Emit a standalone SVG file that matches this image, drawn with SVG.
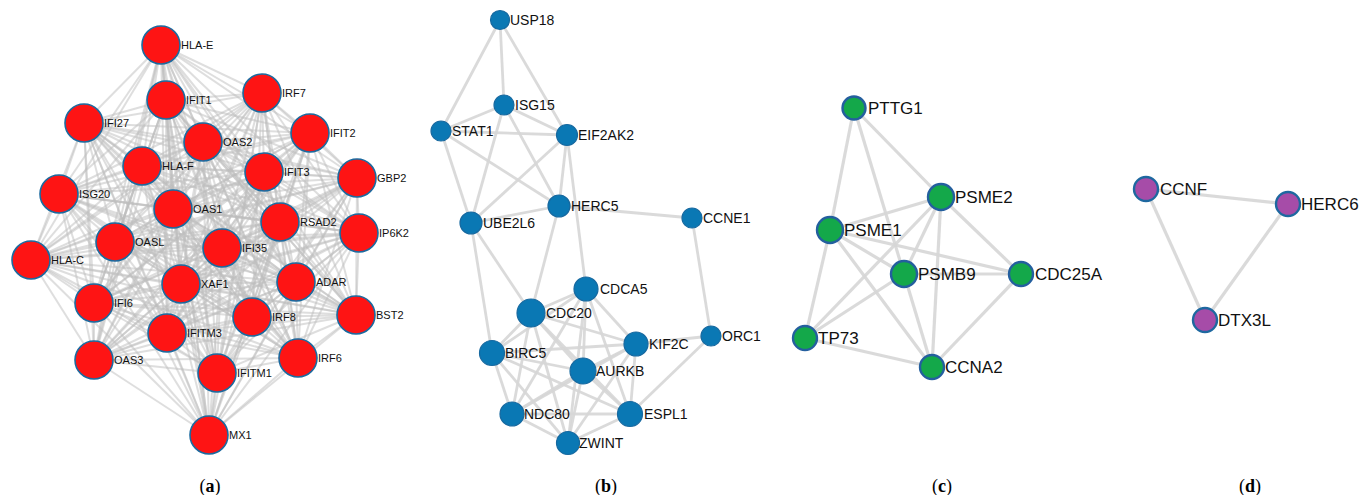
<svg xmlns="http://www.w3.org/2000/svg" width="1363" height="495" viewBox="0 0 1363 495">
<style>
text{font-family:"Liberation Sans",Arial,sans-serif;fill:#111}
.la{font-size:11px}
.lb{font-size:14px}
.lc{font-size:17px}
.cap{font-family:"Liberation Serif","Times New Roman",serif;font-size:18px;fill:#000;text-anchor:middle}
.cap tspan{font-weight:bold}
.ea path{stroke:#bdbdbd;stroke-width:2;stroke-opacity:0.5;fill:none}
.eb path{stroke:#d6d6d6;stroke-width:2.8;fill:none;stroke-opacity:0.9}
.ec path{stroke:#d6d6d6;stroke-width:3.2;fill:none;stroke-opacity:0.9}
.na{fill:#fe1414;stroke:#1b6a9f;stroke-width:1.6}
.nb{fill:#0a78b4;stroke:#1769a0;stroke-width:1.2}
.nc{fill:#14a84a;stroke:#245f9e;stroke-width:2.4}
.nd{fill:#a64ca8;stroke:#1e68a0;stroke-width:2.4}
</style>
<g id="connectors">
<g class="ea">
<path d="M161 45L166 100"/><path d="M161 45L262 93"/><path d="M161 45L84 123"/><path d="M161 45L310 133"/><path d="M161 45L203 142"/><path d="M161 45L142 166"/><path d="M161 45L264 172"/><path d="M161 45L357 178"/><path d="M161 45L59 194"/><path d="M161 45L173 209"/><path d="M161 45L280 222"/><path d="M161 45L359 233"/><path d="M161 45L115 242"/><path d="M161 45L222 248"/><path d="M161 45L31 260"/><path d="M161 45L181 284"/><path d="M161 45L296 282"/><path d="M161 45L94 303"/><path d="M161 45L252 317"/><path d="M161 45L356 315"/><path d="M161 45L167 333"/><path d="M161 45L94 360"/><path d="M161 45L298 358"/><path d="M161 45L217 373"/><path d="M161 45L209 435"/>
<path d="M166 100L262 93"/><path d="M166 100L84 123"/><path d="M166 100L310 133"/><path d="M166 100L203 142"/><path d="M166 100L142 166"/><path d="M166 100L264 172"/><path d="M166 100L357 178"/><path d="M166 100L59 194"/><path d="M166 100L173 209"/><path d="M166 100L280 222"/><path d="M166 100L359 233"/><path d="M166 100L115 242"/><path d="M166 100L222 248"/><path d="M166 100L31 260"/><path d="M166 100L181 284"/><path d="M166 100L296 282"/><path d="M166 100L94 303"/><path d="M166 100L252 317"/><path d="M166 100L356 315"/><path d="M166 100L167 333"/><path d="M166 100L94 360"/><path d="M166 100L298 358"/><path d="M166 100L217 373"/><path d="M166 100L209 435"/>
<path d="M262 93L84 123"/><path d="M262 93L310 133"/><path d="M262 93L203 142"/><path d="M262 93L142 166"/><path d="M262 93L264 172"/><path d="M262 93L357 178"/><path d="M262 93L59 194"/><path d="M262 93L173 209"/><path d="M262 93L280 222"/><path d="M262 93L359 233"/><path d="M262 93L115 242"/><path d="M262 93L222 248"/><path d="M262 93L31 260"/><path d="M262 93L181 284"/><path d="M262 93L296 282"/><path d="M262 93L94 303"/><path d="M262 93L252 317"/><path d="M262 93L356 315"/><path d="M262 93L167 333"/><path d="M262 93L94 360"/><path d="M262 93L298 358"/><path d="M262 93L217 373"/><path d="M262 93L209 435"/>
<path d="M84 123L310 133"/><path d="M84 123L203 142"/><path d="M84 123L142 166"/><path d="M84 123L264 172"/><path d="M84 123L357 178"/><path d="M84 123L59 194"/><path d="M84 123L173 209"/><path d="M84 123L280 222"/><path d="M84 123L359 233"/><path d="M84 123L115 242"/><path d="M84 123L222 248"/><path d="M84 123L31 260"/><path d="M84 123L181 284"/><path d="M84 123L296 282"/><path d="M84 123L94 303"/><path d="M84 123L252 317"/><path d="M84 123L356 315"/><path d="M84 123L167 333"/><path d="M84 123L94 360"/><path d="M84 123L298 358"/><path d="M84 123L217 373"/><path d="M84 123L209 435"/>
<path d="M310 133L203 142"/><path d="M310 133L142 166"/><path d="M310 133L264 172"/><path d="M310 133L357 178"/><path d="M310 133L59 194"/><path d="M310 133L173 209"/><path d="M310 133L280 222"/><path d="M310 133L359 233"/><path d="M310 133L115 242"/><path d="M310 133L222 248"/><path d="M310 133L31 260"/><path d="M310 133L181 284"/><path d="M310 133L296 282"/><path d="M310 133L94 303"/><path d="M310 133L252 317"/><path d="M310 133L356 315"/><path d="M310 133L167 333"/><path d="M310 133L94 360"/><path d="M310 133L298 358"/><path d="M310 133L217 373"/><path d="M310 133L209 435"/>
<path d="M203 142L142 166"/><path d="M203 142L264 172"/><path d="M203 142L357 178"/><path d="M203 142L59 194"/><path d="M203 142L173 209"/><path d="M203 142L280 222"/><path d="M203 142L359 233"/><path d="M203 142L115 242"/><path d="M203 142L222 248"/><path d="M203 142L31 260"/><path d="M203 142L181 284"/><path d="M203 142L296 282"/><path d="M203 142L94 303"/><path d="M203 142L252 317"/><path d="M203 142L356 315"/><path d="M203 142L167 333"/><path d="M203 142L94 360"/><path d="M203 142L298 358"/><path d="M203 142L217 373"/><path d="M203 142L209 435"/>
<path d="M142 166L264 172"/><path d="M142 166L357 178"/><path d="M142 166L59 194"/><path d="M142 166L173 209"/><path d="M142 166L280 222"/><path d="M142 166L359 233"/><path d="M142 166L115 242"/><path d="M142 166L222 248"/><path d="M142 166L31 260"/><path d="M142 166L181 284"/><path d="M142 166L296 282"/><path d="M142 166L94 303"/><path d="M142 166L252 317"/><path d="M142 166L356 315"/><path d="M142 166L167 333"/><path d="M142 166L94 360"/><path d="M142 166L298 358"/><path d="M142 166L217 373"/><path d="M142 166L209 435"/>
<path d="M264 172L357 178"/><path d="M264 172L59 194"/><path d="M264 172L173 209"/><path d="M264 172L280 222"/><path d="M264 172L359 233"/><path d="M264 172L115 242"/><path d="M264 172L222 248"/><path d="M264 172L31 260"/><path d="M264 172L181 284"/><path d="M264 172L296 282"/><path d="M264 172L94 303"/><path d="M264 172L252 317"/><path d="M264 172L356 315"/><path d="M264 172L167 333"/><path d="M264 172L94 360"/><path d="M264 172L298 358"/><path d="M264 172L217 373"/><path d="M264 172L209 435"/>
<path d="M357 178L59 194"/><path d="M357 178L173 209"/><path d="M357 178L280 222"/><path d="M357 178L359 233"/><path d="M357 178L115 242"/><path d="M357 178L222 248"/><path d="M357 178L31 260"/><path d="M357 178L181 284"/><path d="M357 178L296 282"/><path d="M357 178L94 303"/><path d="M357 178L252 317"/><path d="M357 178L356 315"/><path d="M357 178L167 333"/><path d="M357 178L94 360"/><path d="M357 178L298 358"/><path d="M357 178L217 373"/><path d="M357 178L209 435"/>
<path d="M59 194L173 209"/><path d="M59 194L280 222"/><path d="M59 194L359 233"/><path d="M59 194L115 242"/><path d="M59 194L222 248"/><path d="M59 194L31 260"/><path d="M59 194L181 284"/><path d="M59 194L296 282"/><path d="M59 194L94 303"/><path d="M59 194L252 317"/><path d="M59 194L356 315"/><path d="M59 194L167 333"/><path d="M59 194L94 360"/><path d="M59 194L298 358"/><path d="M59 194L217 373"/><path d="M59 194L209 435"/>
<path d="M173 209L280 222"/><path d="M173 209L359 233"/><path d="M173 209L115 242"/><path d="M173 209L222 248"/><path d="M173 209L31 260"/><path d="M173 209L181 284"/><path d="M173 209L296 282"/><path d="M173 209L94 303"/><path d="M173 209L252 317"/><path d="M173 209L356 315"/><path d="M173 209L167 333"/><path d="M173 209L94 360"/><path d="M173 209L298 358"/><path d="M173 209L217 373"/><path d="M173 209L209 435"/>
<path d="M280 222L359 233"/><path d="M280 222L115 242"/><path d="M280 222L222 248"/><path d="M280 222L31 260"/><path d="M280 222L181 284"/><path d="M280 222L296 282"/><path d="M280 222L94 303"/><path d="M280 222L252 317"/><path d="M280 222L356 315"/><path d="M280 222L167 333"/><path d="M280 222L94 360"/><path d="M280 222L298 358"/><path d="M280 222L217 373"/><path d="M280 222L209 435"/>
<path d="M359 233L115 242"/><path d="M359 233L222 248"/><path d="M359 233L31 260"/><path d="M359 233L181 284"/><path d="M359 233L296 282"/><path d="M359 233L94 303"/><path d="M359 233L252 317"/><path d="M359 233L356 315"/><path d="M359 233L167 333"/><path d="M359 233L94 360"/><path d="M359 233L298 358"/><path d="M359 233L217 373"/><path d="M359 233L209 435"/>
<path d="M115 242L222 248"/><path d="M115 242L31 260"/><path d="M115 242L181 284"/><path d="M115 242L296 282"/><path d="M115 242L94 303"/><path d="M115 242L252 317"/><path d="M115 242L356 315"/><path d="M115 242L167 333"/><path d="M115 242L94 360"/><path d="M115 242L298 358"/><path d="M115 242L217 373"/><path d="M115 242L209 435"/>
<path d="M222 248L31 260"/><path d="M222 248L181 284"/><path d="M222 248L296 282"/><path d="M222 248L94 303"/><path d="M222 248L252 317"/><path d="M222 248L356 315"/><path d="M222 248L167 333"/><path d="M222 248L94 360"/><path d="M222 248L298 358"/><path d="M222 248L217 373"/><path d="M222 248L209 435"/>
<path d="M31 260L181 284"/><path d="M31 260L296 282"/><path d="M31 260L94 303"/><path d="M31 260L252 317"/><path d="M31 260L356 315"/><path d="M31 260L167 333"/><path d="M31 260L94 360"/><path d="M31 260L298 358"/><path d="M31 260L217 373"/><path d="M31 260L209 435"/>
<path d="M181 284L296 282"/><path d="M181 284L94 303"/><path d="M181 284L252 317"/><path d="M181 284L356 315"/><path d="M181 284L167 333"/><path d="M181 284L94 360"/><path d="M181 284L298 358"/><path d="M181 284L217 373"/><path d="M181 284L209 435"/>
<path d="M296 282L94 303"/><path d="M296 282L252 317"/><path d="M296 282L356 315"/><path d="M296 282L167 333"/><path d="M296 282L94 360"/><path d="M296 282L298 358"/><path d="M296 282L217 373"/><path d="M296 282L209 435"/>
<path d="M94 303L252 317"/><path d="M94 303L356 315"/><path d="M94 303L167 333"/><path d="M94 303L94 360"/><path d="M94 303L298 358"/><path d="M94 303L217 373"/><path d="M94 303L209 435"/>
<path d="M252 317L356 315"/><path d="M252 317L167 333"/><path d="M252 317L94 360"/><path d="M252 317L298 358"/><path d="M252 317L217 373"/><path d="M252 317L209 435"/>
<path d="M356 315L167 333"/><path d="M356 315L94 360"/><path d="M356 315L298 358"/><path d="M356 315L217 373"/><path d="M356 315L209 435"/>
<path d="M167 333L94 360"/><path d="M167 333L298 358"/><path d="M167 333L217 373"/><path d="M167 333L209 435"/>
<path d="M94 360L298 358"/><path d="M94 360L217 373"/><path d="M94 360L209 435"/>
<path d="M298 358L217 373"/><path d="M298 358L209 435"/>
<path d="M217 373L209 435"/>
</g>
<g class="eb">
<path d="M500 20L504 105"/><path d="M500 20L441 131"/><path d="M500 20L567 135"/>
<path d="M504 105L441 131"/><path d="M504 105L567 135"/><path d="M504 105L471 223"/><path d="M504 105L559 206"/>
<path d="M441 131L567 135"/><path d="M441 131L559 206"/><path d="M441 131L471 223"/>
<path d="M567 135L471 223"/><path d="M567 135L559 206"/><path d="M567 135L586 289"/>
<path d="M559 206L471 223"/><path d="M559 206L692 218"/><path d="M559 206L531 313"/>
<path d="M471 223L492 353"/><path d="M471 223L531 313"/>
<path d="M692 218L711 336"/><path d="M711 336L636 344"/><path d="M711 336L630 414"/>
<path d="M586 289L531 313"/><path d="M586 289L492 353"/><path d="M586 289L636 344"/><path d="M586 289L583 371"/><path d="M586 289L512 414"/><path d="M586 289L630 414"/><path d="M586 289L568 443"/>
<path d="M531 313L492 353"/><path d="M531 313L636 344"/><path d="M531 313L583 371"/><path d="M531 313L512 414"/><path d="M531 313L630 414"/><path d="M531 313L568 443"/>
<path d="M492 353L636 344"/><path d="M492 353L583 371"/><path d="M492 353L512 414"/><path d="M492 353L630 414"/><path d="M492 353L568 443"/>
<path d="M636 344L583 371"/><path d="M636 344L512 414"/><path d="M636 344L630 414"/><path d="M636 344L568 443"/>
<path d="M583 371L512 414"/><path d="M583 371L630 414"/><path d="M583 371L568 443"/>
<path d="M512 414L630 414"/><path d="M512 414L568 443"/>
<path d="M630 414L568 443"/>
</g>
<g class="ec">
<path d="M854 108L830 230"/><path d="M854 108L904 274"/><path d="M854 108L941 197"/>
<path d="M941 197L830 230"/><path d="M941 197L904 274"/><path d="M941 197L805 338"/><path d="M941 197L932 367"/><path d="M941 197L1021 274"/>
<path d="M830 230L1021 274"/><path d="M830 230L904 274"/><path d="M830 230L805 338"/><path d="M830 230L932 367"/>
<path d="M904 274L1021 274"/><path d="M904 274L805 338"/><path d="M904 274L932 367"/>
<path d="M805 338L932 367"/><path d="M1021 274L932 367"/>
<path d="M1146 189L1288 204"/><path d="M1146 189L1205 320"/><path d="M1288 204L1205 320"/>
</g>
</g>
<g id="nodes-a">
<g id="HLA-E"><circle class="na" cx="161" cy="45" r="19"/><text class="la" x="181" y="49">HLA-E</text></g>
<g id="IFIT1"><circle class="na" cx="166" cy="100" r="19"/><text class="la" x="186" y="104">IFIT1</text></g>
<g id="IRF7"><circle class="na" cx="262" cy="93" r="19"/><text class="la" x="282" y="97">IRF7</text></g>
<g id="IFI27"><circle class="na" cx="84" cy="123" r="19"/><text class="la" x="104" y="127">IFI27</text></g>
<g id="IFIT2"><circle class="na" cx="310" cy="133" r="19"/><text class="la" x="330" y="137">IFIT2</text></g>
<g id="OAS2"><circle class="na" cx="203" cy="142" r="19"/><text class="la" x="223" y="146">OAS2</text></g>
<g id="HLA-F"><circle class="na" cx="142" cy="166" r="19"/><text class="la" x="162" y="170">HLA-F</text></g>
<g id="IFIT3"><circle class="na" cx="264" cy="172" r="19"/><text class="la" x="284" y="176">IFIT3</text></g>
<g id="GBP2"><circle class="na" cx="357" cy="178" r="19"/><text class="la" x="377" y="182">GBP2</text></g>
<g id="ISG20"><circle class="na" cx="59" cy="194" r="19"/><text class="la" x="79" y="198">ISG20</text></g>
<g id="OAS1"><circle class="na" cx="173" cy="209" r="19"/><text class="la" x="193" y="213">OAS1</text></g>
<g id="RSAD2"><circle class="na" cx="280" cy="222" r="19"/><text class="la" x="300" y="226">RSAD2</text></g>
<g id="IP6K2"><circle class="na" cx="359" cy="233" r="19"/><text class="la" x="379" y="237">IP6K2</text></g>
<g id="OASL"><circle class="na" cx="115" cy="242" r="19"/><text class="la" x="135" y="246">OASL</text></g>
<g id="IFI35"><circle class="na" cx="222" cy="248" r="19"/><text class="la" x="242" y="252">IFI35</text></g>
<g id="HLA-C"><circle class="na" cx="31" cy="260" r="19"/><text class="la" x="51" y="264">HLA-C</text></g>
<g id="XAF1"><circle class="na" cx="181" cy="284" r="19"/><text class="la" x="201" y="288">XAF1</text></g>
<g id="ADAR"><circle class="na" cx="296" cy="282" r="19"/><text class="la" x="316" y="286">ADAR</text></g>
<g id="IFI6"><circle class="na" cx="94" cy="303" r="19"/><text class="la" x="114" y="307">IFI6</text></g>
<g id="IRF8"><circle class="na" cx="252" cy="317" r="19"/><text class="la" x="272" y="321">IRF8</text></g>
<g id="BST2"><circle class="na" cx="356" cy="315" r="19"/><text class="la" x="376" y="319">BST2</text></g>
<g id="IFITM3"><circle class="na" cx="167" cy="333" r="19"/><text class="la" x="187" y="337">IFITM3</text></g>
<g id="OAS3"><circle class="na" cx="94" cy="360" r="19"/><text class="la" x="114" y="364">OAS3</text></g>
<g id="IRF6"><circle class="na" cx="298" cy="358" r="19"/><text class="la" x="318" y="362">IRF6</text></g>
<g id="IFITM1"><circle class="na" cx="217" cy="373" r="19"/><text class="la" x="237" y="377">IFITM1</text></g>
<g id="MX1"><circle class="na" cx="209" cy="435" r="19"/><text class="la" x="229" y="439">MX1</text></g>
</g>
<g id="nodes-b">
<g id="USP18"><circle class="nb" cx="500" cy="20" r="9.5"/><text class="lb" x="510" y="25">USP18</text></g>
<g id="ISG15"><circle class="nb" cx="504" cy="105" r="10"/><text class="lb" x="515" y="110">ISG15</text></g>
<g id="STAT1"><circle class="nb" cx="441" cy="131" r="10"/><text class="lb" x="452" y="136">STAT1</text></g>
<g id="EIF2AK2"><circle class="nb" cx="567" cy="135" r="10.5"/><text class="lb" x="578" y="140">EIF2AK2</text></g>
<g id="HERC5"><circle class="nb" cx="559" cy="206" r="11"/><text class="lb" x="571" y="211">HERC5</text></g>
<g id="UBE2L6"><circle class="nb" cx="471" cy="223" r="11"/><text class="lb" x="483" y="228">UBE2L6</text></g>
<g id="CCNE1"><circle class="nb" cx="692" cy="218" r="10"/><text class="lb" x="703" y="223">CCNE1</text></g>
<g id="CDCA5"><circle class="nb" cx="586" cy="289" r="12"/><text class="lb" x="600" y="294">CDCA5</text></g>
<g id="CDC20"><circle class="nb" cx="531" cy="313" r="14"/><text class="lb" x="546" y="318">CDC20</text></g>
<g id="BIRC5"><circle class="nb" cx="492" cy="353" r="12.5"/><text class="lb" x="505" y="358">BIRC5</text></g>
<g id="KIF2C"><circle class="nb" cx="636" cy="344" r="12"/><text class="lb" x="649" y="349">KIF2C</text></g>
<g id="ORC1"><circle class="nb" cx="711" cy="336" r="10"/><text class="lb" x="722" y="341">ORC1</text></g>
<g id="AURKB"><circle class="nb" cx="583" cy="371" r="13"/><text class="lb" x="596" y="376">AURKB</text></g>
<g id="NDC80"><circle class="nb" cx="512" cy="414" r="12"/><text class="lb" x="524" y="419">NDC80</text></g>
<g id="ESPL1"><circle class="nb" cx="630" cy="414" r="12.5"/><text class="lb" x="644" y="419">ESPL1</text></g>
<g id="ZWINT"><circle class="nb" cx="568" cy="443" r="11.5"/><text class="lb" x="579" y="448">ZWINT</text></g>
</g>
<g id="nodes-c">
<g id="PTTG1"><circle class="nc" cx="854" cy="108" r="11.5"/><text class="lc" x="868" y="114">PTTG1</text></g>
<g id="PSME2"><circle class="nc" cx="941" cy="197" r="13"/><text class="lc" x="955" y="203">PSME2</text></g>
<g id="PSME1"><circle class="nc" cx="830" cy="230" r="13"/><text class="lc" x="844" y="236">PSME1</text></g>
<g id="PSMB9"><circle class="nc" cx="904" cy="274" r="13"/><text class="lc" x="918" y="280">PSMB9</text></g>
<g id="CDC25A"><circle class="nc" cx="1021" cy="274" r="12"/><text class="lc" x="1035" y="280">CDC25A</text></g>
<g id="TP73"><circle class="nc" cx="805" cy="338" r="12"/><text class="lc" x="818" y="344">TP73</text></g>
<g id="CCNA2"><circle class="nc" cx="932" cy="367" r="12"/><text class="lc" x="945" y="373">CCNA2</text></g>
</g>
<g id="nodes-d">
<g id="CCNF"><circle class="nd" cx="1146" cy="189" r="12"/><text class="lc" x="1160" y="195">CCNF</text></g>
<g id="HERC6"><circle class="nd" cx="1288" cy="204" r="12"/><text class="lc" x="1301" y="210">HERC6</text></g>
<g id="DTX3L"><circle class="nd" cx="1205" cy="320" r="12"/><text class="lc" x="1218" y="326">DTX3L</text></g>
</g>
<g id="captions">
<text class="cap" x="210" y="492">(<tspan>a</tspan>)</text>
<text class="cap" x="606" y="492">(<tspan>b</tspan>)</text>
<text class="cap" x="942" y="492">(<tspan>c</tspan>)</text>
<text class="cap" x="1250" y="492">(<tspan>d</tspan>)</text>
</g>
</svg>
